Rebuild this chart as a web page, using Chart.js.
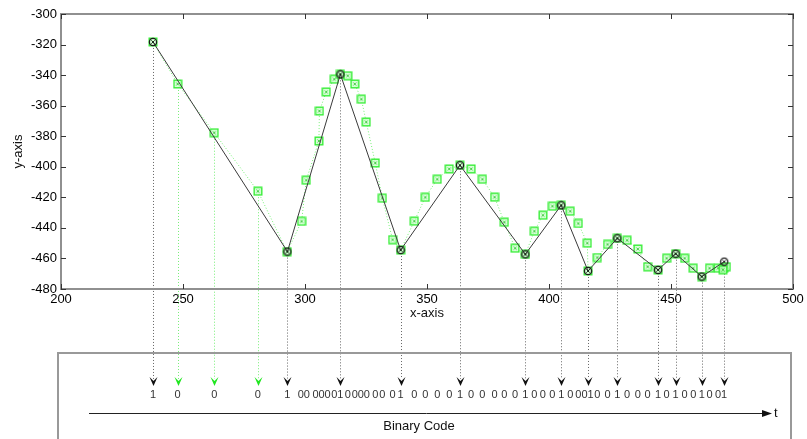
<!DOCTYPE html>
<html>
<head>
<meta charset="utf-8">
<script src="https://cdn.jsdelivr.net/npm/chart.js@4.4.0/dist/chart.umd.min.js"></script>
<style>
  html, body { margin: 0; padding: 0; background: #fff; }
  #wrap { width: 807px; height: 439px; }
</style>
</head>
<body>
<div id="wrap"><canvas id="chart" width="807" height="439"></canvas></div>
<script>
// Axis ticks
const xTicks = [200, 250, 300, 350, 400, 450, 500];
const yTicks = [-480, -460, -440, -420, -400, -380, -360, -340, -320, -300];

// Sampled signal (green squares, dotted line)
const greenX = [237.7, 247.8, 262.8, 280.7, 292.7, 298.6, 300.5, 305.7, 305.9, 308.7,
  312.0, 314.5, 317.5, 320.4, 323.1, 325.1, 328.8, 331.7, 335.9, 339.2,
  344.8, 349.3, 354.2, 359.1, 363.5, 368.1, 372.7, 377.7, 381.7, 386.1,
  390.3, 394.0, 397.5, 401.4, 405.0, 408.7, 412.0, 415.7, 416.0, 419.8,
  424.0, 428.0, 432.0, 436.4, 440.4, 444.7, 448.2, 451.9, 455.6, 459.1,
  462.6, 465.8, 469.3, 471.7, 472.7, 471.3];
const greenY = [-318.3, -345.8, -377.7, -416.0, -455.6, -435.7, -408.8, -383.1, -363.5, -351.0,
  -342.7, -339.5, -340.4, -345.8, -355.8, -370.7, -397.5, -420.6, -447.7, -454.5,
  -435.6, -420.0, -408.2, -401.4, -399.0, -401.4, -408.2, -419.9, -436.3, -453.3,
  -457.3, -442.2, -431.7, -425.8, -425.2, -429.1, -437.1, -450.0, -468.2, -459.4,
  -450.8, -446.8, -448.1, -453.8, -465.4, -467.5, -459.9, -456.9, -459.9, -466.4,
  -471.9, -466.4, -466.4, -466.3, -465.4, -467.4];

// Extrema (black circles, solid line)
const blackX = [237.7, 292.8, 314.5, 339.2, 363.5, 390.3, 405.0, 416.0, 428.0, 444.7, 451.9, 462.6, 471.8];
const blackY = [-318.3, -455.5, -339.5, -454.5, -399.0, -457.3, -425.2, -468.2, -446.8, -467.5, -456.9, -471.9, -462.1];

// Binary code, one digit per green sample ('' = no digit)
const bits = ['1', '0', '0', '0', '1', '0', '0', '0', '0', '0',
  '0', '1', '0', '0', '0', '0', '0', '0', '0', '1',
  '0', '0', '0', '0', '1', '0', '0', '0', '0', '0',
  '1', '0', '0', '0', '1', '0', '0', '0', '1', '0',
  '0', '1', '0', '0', '0', '1', '0', '1', '0', '0',
  '1', '0', '0', '1', '', ''];

// green samples that get their own arrow
const greenArrows = [1, 2, 3];

const FONT = '"Liberation Sans", Arial, sans-serif';
const ARROW_TOP = 377;

function makeGreenMark() {
  const c = document.createElement('canvas');
  c.width = 10; c.height = 10;
  const g = c.getContext('2d');
  g.fillStyle = 'rgba(200,255,200,0.7)';
  g.fillRect(1, 1, 8, 8);
  g.strokeStyle = '#38ee38';
  g.lineWidth = 1.4;
  g.strokeRect(1.2, 1.2, 7.6, 7.6);
  g.lineWidth = 0.9;
  g.strokeStyle = '#44cc44';
  g.beginPath();
  g.moveTo(3.5, 3.5); g.lineTo(6.5, 6.5);
  g.moveTo(6.5, 3.5); g.lineTo(3.5, 6.5);
  g.stroke();
  return c;
}

function makeBlackMark() {
  const c = document.createElement('canvas');
  c.width = 10; c.height = 10;
  const g = c.getContext('2d');
  g.strokeStyle = '#1a1a1a';
  g.lineWidth = 1.3;
  g.beginPath();
  g.arc(5, 5, 3.6, 0, Math.PI * 2);
  g.stroke();
  g.lineWidth = 0.9;
  g.beginPath();
  g.moveTo(3.4, 3.4); g.lineTo(6.6, 6.6);
  g.moveTo(6.6, 3.4); g.lineTo(3.4, 6.6);
  g.stroke();
  return c;
}

function arrowHead(ctx, x, color) {
  ctx.fillStyle = color;
  ctx.beginPath();
  ctx.moveTo(x - 4, ARROW_TOP);
  ctx.lineTo(x, ARROW_TOP + 4);
  ctx.lineTo(x + 4, ARROW_TOP);
  ctx.lineTo(x, ARROW_TOP + 9);
  ctx.closePath();
  ctx.fill();
}

function dropLine(ctx, x, y, color) {
  ctx.save();
  ctx.strokeStyle = color;
  ctx.lineWidth = 1;
  ctx.setLineDash([1, 2]);
  ctx.beginPath();
  ctx.moveTo(Math.round(x) + 0.5, y);
  ctx.lineTo(Math.round(x) + 0.5, ARROW_TOP + 2);
  ctx.stroke();
  ctx.restore();
}

const overlay = {
  id: 'overlay',
  beforeDatasetsDraw(chart) {
    const { ctx, scales: { x, y } } = chart;
    blackX.forEach((v, i) => {
      dropLine(ctx, x.getPixelForValue(v), y.getPixelForValue(blackY[i]), '#666');
    });
    greenArrows.forEach(i => {
      dropLine(ctx, x.getPixelForValue(greenX[i]), y.getPixelForValue(greenY[i]), '#77ee77');
    });
  },
  afterDraw(chart) {
    const { ctx, chartArea: a, scales: { x, y } } = chart;
    ctx.save();

    // plot frame with inward ticks
    ctx.strokeStyle = '#909090';
    ctx.lineWidth = 2;
    ctx.strokeRect(a.left, a.top, a.right - a.left, a.bottom - a.top);
    ctx.strokeStyle = '#333';
    ctx.lineWidth = 1;
    ctx.beginPath();
    xTicks.forEach(v => {
      const px = Math.round(x.getPixelForValue(v)) + 0.5;
      ctx.moveTo(px, a.bottom); ctx.lineTo(px, a.bottom - 5);
      ctx.moveTo(px, a.top); ctx.lineTo(px, a.top + 5);
    });
    yTicks.forEach(v => {
      const py = Math.round(y.getPixelForValue(v)) + 0.5;
      ctx.moveTo(a.left, py); ctx.lineTo(a.left + 5, py);
      ctx.moveTo(a.right, py); ctx.lineTo(a.right - 5, py);
    });
    ctx.stroke();

    // axis titles
    ctx.fillStyle = '#111';
    ctx.font = '13px ' + FONT;
    ctx.textAlign = 'center';
    ctx.textBaseline = 'middle';
    ctx.fillText('x-axis', (a.left + a.right) / 2, 313);
    ctx.save();
    ctx.translate(18, (a.top + a.bottom) / 2);
    ctx.rotate(-Math.PI / 2);
    ctx.fillText('y-axis', 0, 0);
    ctx.restore();

    // binary code box
    ctx.strokeStyle = '#999';
    ctx.lineWidth = 2;
    ctx.strokeRect(58, 353, 733, 120);

    // arrows
    blackX.forEach(v => arrowHead(ctx, Math.round(x.getPixelForValue(v)) + 0.5, '#111'));
    greenArrows.forEach(i => arrowHead(ctx, Math.round(x.getPixelForValue(greenX[i])) + 0.5, '#22e622'));

    // digits, spread apart where samples crowd together
    const pos = [];
    greenX.forEach((v, i) => { if (bits[i]) pos.push({ x: x.getPixelForValue(v), b: bits[i] }); });
    const gap = 6;
    for (let it = 0; it < 80; it++) {
      for (let k = 1; k < pos.length; k++) {
        const d = pos[k].x - pos[k - 1].x;
        if (d < gap) {
          const s = (gap - d) / 2;
          pos[k - 1].x -= s; pos[k].x += s;
        }
      }
    }
    ctx.fillStyle = '#333';
    ctx.font = '11px ' + FONT;
    pos.forEach(p => ctx.fillText(p.b, p.x, 395));

    // time axis
    ctx.strokeStyle = '#222';
    ctx.lineWidth = 1;
    ctx.beginPath();
    ctx.moveTo(89, 413.5); ctx.lineTo(764, 413.5);
    ctx.stroke();
    ctx.fillStyle = '#111';
    ctx.beginPath();
    ctx.moveTo(772, 413.5); ctx.lineTo(762, 410); ctx.lineTo(762, 417);
    ctx.closePath(); ctx.fill();
    ctx.font = '13px ' + FONT;
    ctx.textAlign = 'left';
    ctx.fillText('t', 774, 413);
    ctx.textAlign = 'center';
    ctx.fillText('Binary Code', 419, 426);

    ctx.restore();
  }
};

const greenData = greenX.map((v, i) => ({ x: v, y: greenY[i] }));
const blackData = blackX.map((v, i) => ({ x: v, y: blackY[i] }));

new Chart(document.getElementById('chart'), {
  type: 'scatter',
  data: {
    datasets: [
      {
        data: blackData,
        showLine: true,
        borderColor: '#3a3a3a',
        borderWidth: 1,
        pointStyle: makeBlackMark(),
        pointRadius: 5
      },
      {
        data: greenData,
        showLine: true,
        borderColor: '#74f074',
        borderWidth: 1,
        borderDash: [1, 2],
        pointStyle: makeGreenMark(),
        pointRadius: 5
      }
    ]
  },
  options: {
    responsive: false,
    animation: false,
    devicePixelRatio: 1,
    layout: { padding: { left: 0, right: 14, top: 14, bottom: 0 } },
    plugins: { legend: { display: false }, tooltip: { enabled: false } },
    scales: {
      x: {
        type: 'linear',
        min: 200, max: 500,
        afterBuildTicks: s => { s.ticks = xTicks.map(v => ({ value: v })); },
        afterFit: s => { s.height = 150; },
        grid: { display: false, drawTicks: false },
        border: { display: false },
        ticks: { color: '#000', padding: 3, font: { family: FONT, size: 13 } }
      },
      y: {
        type: 'linear',
        min: -480, max: -300,
        afterBuildTicks: s => { s.ticks = yTicks.map(v => ({ value: v })); },
        afterFit: s => { s.width = 61; },
        grid: { display: false, drawTicks: false },
        border: { display: false },
        ticks: { color: '#000', padding: 4, font: { family: FONT, size: 13 } }
      }
    }
  },
  plugins: [overlay]
});
</script>
</body>
</html>
